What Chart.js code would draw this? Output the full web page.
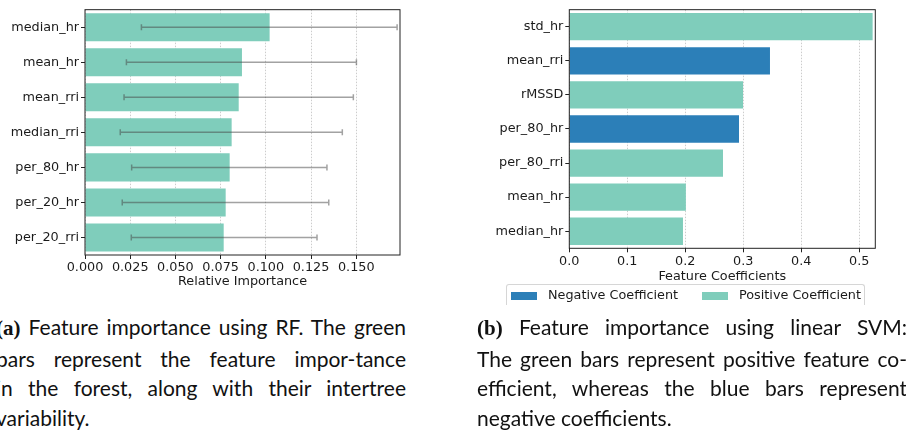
<!DOCTYPE html>
<html>
<head>
<meta charset="utf-8">
<script src="https://cdn.jsdelivr.net/npm/chart.js@4.4.1/dist/chart.umd.min.js"></script>
<style>
  html, body { margin: 0; padding: 0; background: #fff; }
  body { width: 906px; height: 432px; overflow: hidden; position: relative; }
  .wrap { position: absolute; }
  #rfWrap { left: 0; top: 0; width: 410px; height: 300px; }
  #svmWrap { left: 440px; top: 0; width: 466px; height: 290px; }
  .legend {
    position: absolute; left: 506px; top: 284px; width: 357px; height: 20px;
    border: 1px solid #d6d6d6; border-bottom: none; border-radius: 3px 3px 0 0;
    font-family: "DejaVu Sans", sans-serif; font-size: 12.8px; color: #1a1a1a;
  }
  .legend .sw { position: absolute; top: 6.5px; width: 26px; height: 8px; }
  .legend .lb { position: absolute; top: 1.5px; white-space: nowrap; }
  .caption {
    position: absolute; font-family: Lato, sans-serif; font-size: 21px;
    line-height: 29.5px; color: #111;
  }
  .caption div { white-space: nowrap; }
  .caption .j { text-align: justify; text-align-last: justify; white-space: normal; }
  .caption b { font-family: "Liberation Serif", serif; font-weight: bold; }
</style>
</head>
<body>
<div class="wrap" id="rfWrap"><canvas id="rf" width="410" height="300"></canvas></div>
<div class="wrap" id="svmWrap"><canvas id="svm" width="466" height="290"></canvas></div>

<div class="legend">
  <span class="sw" style="left:4px;background:#2c7fb8"></span>
  <span class="lb" style="left:41px">Negative Coefficient</span>
  <span class="sw" style="left:195px;background:#7fcdbb"></span>
  <span class="lb" style="left:232px">Positive Coefficient</span>
</div>

<div class="caption" style="left:-4px;top:312px;width:410px">
  <div class="j"><b>(a)</b> Feature importance using RF. The green</div>
  <div class="j">bars represent the feature impor-tance</div>
  <div class="j">in the forest, along with their intertree</div>
  <div>variability.</div>
</div>
<div class="caption" style="left:477px;top:312px;width:430px">
  <div class="j"><b>(b)</b> Feature importance using linear SVM:</div>
  <div class="j">The green bars represent positive feature co-</div>
  <div class="j">efficient, whereas the blue bars represent</div>
  <div>negative coefficients.</div>
</div>

<script>
// random forest importances
const rfFeatures = ["median_hr", "mean_hr", "mean_rri", "median_rri", "per_80_hr", "per_20_hr", "per_20_rri"];
const rfImportance = [0.1021, 0.0868, 0.0850, 0.0811, 0.0800, 0.0778, 0.0767];
const rfErrLow = [0.0312, 0.0229, 0.0216, 0.0195, 0.0258, 0.0206, 0.0256];
const rfErrHigh = [0.1726, 0.1501, 0.1484, 0.1423, 0.1338, 0.1348, 0.1283];
const rfTicks = [0, 0.025, 0.05, 0.075, 0.1, 0.125, 0.15];

// linear svm coefficients (sign gives the colour)
const svmFeatures = ["std_hr", "mean_rri", "rMSSD", "per_80_hr", "per_80_rri", "mean_hr", "median_hr"];
const svmCoef = [0.523, -0.346, 0.2995, -0.2926, 0.265, 0.201, 0.196];
const svmTicks = [0, 0.1, 0.2, 0.3, 0.4, 0.5];

const GREEN = "#7fcdbb";
const BLUE = "#2c7fb8";

Chart.defaults.font.family = "'DejaVu Sans', sans-serif";
Chart.defaults.font.size = 12.8;
Chart.defaults.color = "#1a1a1a";
Chart.defaults.animation = false;

const frame = {
  id: "frame",
  afterDraw(chart) {
    const { ctx, chartArea: a } = chart;
    ctx.save();
    ctx.strokeStyle = "#222";
    ctx.lineWidth = 1;
    ctx.strokeRect(a.left, a.top, a.right - a.left, a.bottom - a.top);
    ctx.restore();
  }
};

const errorBars = {
  id: "errorBars",
  afterDatasetsDraw(chart) {
    const { ctx } = chart;
    const x = chart.scales.x, y = chart.scales.y;
    ctx.save();
    ctx.strokeStyle = "rgba(70,70,70,0.5)";
    ctx.lineWidth = 1.5;
    rfFeatures.forEach((f, i) => {
      const py = y.getPixelForValue(i);
      const x1 = x.getPixelForValue(rfErrLow[i]);
      const x2 = x.getPixelForValue(rfErrHigh[i]);
      ctx.beginPath();
      ctx.moveTo(x1, py); ctx.lineTo(x2, py);
      ctx.moveTo(x1, py - 3); ctx.lineTo(x1, py + 3);
      ctx.moveTo(x2, py - 3); ctx.lineTo(x2, py + 3);
      ctx.stroke();
    });
    ctx.restore();
  }
};

function makeOptions(cfg) {
  return {
    indexAxis: "y",
    responsive: false,
    maintainAspectRatio: false,
    layout: { padding: cfg.padding },
    plugins: { legend: { display: false }, tooltip: { enabled: false } },
    scales: {
      x: {
        type: "linear",
        min: 0,
        max: cfg.max,
        z: 1,
        afterBuildTicks: (s) => { s.ticks = cfg.ticks.map((v) => ({ value: v })); },
        afterFit: (s) => { s.height = cfg.xHeight; },
        ticks: {
          padding: cfg.tickPad,
          maxRotation: 0,
          autoSkip: false,
          callback: (v) => Number(v).toFixed(cfg.decimals),
          color: "#1a1a1a"
        },
        grid: {
          color: "rgba(0,0,0,0.2)",
          lineWidth: 1,
          tickLength: 4,
          tickColor: "#222",
          tickBorderDash: []
        },
        border: { display: false, dash: [1.5, 1.5] },
        title: {
          display: true,
          text: cfg.title,
          color: "#1a1a1a",
          font: { size: 12.8, lineHeight: 1.2 },
          padding: { top: 0, bottom: cfg.titlePad }
        }
      },
      y: {
        type: "category",
        afterFit: (s) => { s.width = cfg.yWidth; },
        ticks: { padding: 2, color: "#1a1a1a", autoSkip: false },
        grid: {
          offset: false,
          drawOnChartArea: false,
          tickLength: 4,
          tickColor: "#222"
        },
        border: { display: false }
      }
    }
  };
}

new Chart(document.getElementById("rf"), {
  type: "bar",
  data: {
    labels: rfFeatures,
    datasets: [{
      data: rfImportance,
      backgroundColor: GREEN,
      borderWidth: 0,
      barPercentage: 0.8,
      categoryPercentage: 1.0
    }]
  },
  options: makeOptions({
    padding: { top: 4, right: 10, left: 0, bottom: 0 },
    max: 0.1742, ticks: rfTicks, decimals: 3,
    xHeight: 45, yWidth: 85, tickPad: 1, titlePad: 10.8,
    title: "Relative Importance"
  }),
  plugins: [errorBars, frame]
});

new Chart(document.getElementById("svm"), {
  type: "bar",
  data: {
    labels: svmFeatures,
    datasets: [{
      data: svmCoef.map((c) => Math.abs(c)),
      backgroundColor: svmCoef.map((c) => (c < 0 ? BLUE : GREEN)),
      borderWidth: 0,
      barPercentage: 0.8,
      categoryPercentage: 1.0
    }]
  },
  options: makeOptions({
    padding: { top: 9.3, right: 30.7, left: 0, bottom: 0 },
    max: 0.5276, ticks: svmTicks, decimals: 1,
    xHeight: 41.7, yWidth: 129.3, tickPad: 2, titlePad: 5.3,
    title: "Feature Coefficients"
  }),
  plugins: [frame]
});
</script>
</body>
</html>
